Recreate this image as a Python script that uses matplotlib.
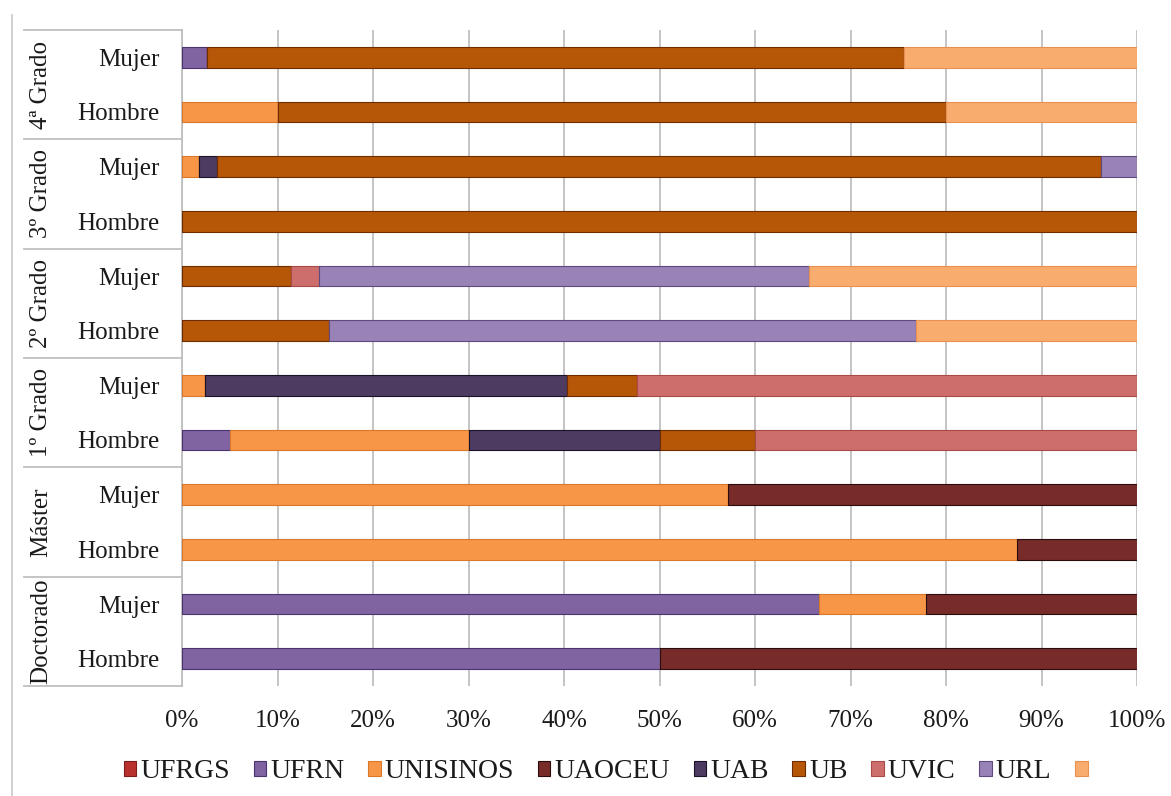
import matplotlib.pyplot as plt
import numpy as np
from matplotlib.patches import Patch
from matplotlib.lines import Line2D
import matplotlib.transforms as mtransforms

plt.rcParams['font.family'] = ['Liberation Serif', 'DejaVu Serif']

# filas de arriba hacia abajo
groups = ['4ª Grado', '3º Grado', '2º Grado', '1º Grado', 'Máster', 'Doctorado']
rows = ['Mujer', 'Hombre'] * 6

series = ['UFRGS', 'UFRN', 'UNISINOS', 'UAOCEU', 'UAB', 'UB', 'UVIC', 'URL', '']

ufrgs = [0, 0, 0, 0, 0, 0, 0, 0, 0, 0, 0, 0]
ufrn = [2.6, 0, 0, 0, 0, 0, 0, 5.0, 0, 0, 66.7, 50.0]
unisinos = [0, 10.0, 1.8, 0, 0, 0, 2.4, 25.0, 57.2, 87.4, 11.2, 0]
uaoceu = [0, 0, 0, 0, 0, 0, 0, 0, 42.8, 12.6, 22.1, 50.0]
uab = [0, 0, 1.9, 0, 0, 0, 37.9, 20.0, 0, 0, 0, 0]
ub = [73.0, 70.0, 92.5, 100.0, 11.4, 15.4, 7.3, 10.0, 0, 0, 0, 0]
uvic = [0, 0, 0, 0, 2.9, 0, 52.4, 40.0, 0, 0, 0, 0]
url = [0, 0, 3.8, 0, 51.4, 61.5, 0, 0, 0, 0, 0, 0]
otro = [24.4, 20.0, 0, 0, 34.3, 23.1, 0, 0, 0, 0, 0, 0]

values = [ufrgs, ufrn, unisinos, uaoceu, uab, ub, uvic, url, otro]
colors = ['#B8312F', '#8064A2', '#F79646', '#772C2A', '#4D3B62',
          '#B65708', '#CD6E6C', '#9982B6', '#F8AC6E']
edges = ['#7a1d1b', '#4a3470', '#d9772a', '#2a0d0c', '#1c1228',
         '#6e2c00', '#a84a48', '#5f4a80', '#e89050']

text_color = '#1a1a1a'

fig = plt.figure(figsize=(11.71, 7.96), dpi=100)
ax = fig.add_axes([182 / 1171, 1 - 686 / 796, 955 / 1171, 656 / 796])

y = np.arange(len(rows))
left = np.zeros(len(rows))
for vals, c, ec in zip(values, colors, edges):
	vals = np.array(vals, dtype=float)
	ax.barh(y, vals, left=left, height=0.38, color=c, edgecolor=ec,
		linewidth=0.8, zorder=3)
	left += vals

ax.set_xlim(0, 100)
ax.set_ylim(11.5, -0.5)
ax.set_xticks(np.arange(0, 101, 10))
ax.set_xticklabels([f'{v}%' for v in range(0, 101, 10)])
ax.set_yticks(y)
ax.set_yticklabels(rows)
ax.tick_params(axis='both', length=0, labelsize=18, colors=text_color)
ax.tick_params(axis='y', pad=16)
ax.tick_params(axis='x', pad=17)
ax.grid(axis='x', color='#BFBFBF', linewidth=1.3, zorder=0)
for s in ['top', 'right', 'bottom']:
	ax.spines[s].set_visible(False)
ax.spines['left'].set_color('#BFBFBF')
ax.spines['left'].set_linewidth(1.3)

# lineas de separacion de grupos y etiquetas giradas
trans = mtransforms.blended_transform_factory(ax.transAxes, ax.transData)
x0 = (24 - 182) / 955
for k in range(7):
	yy = -0.5 + 2 * k
	ax.add_line(Line2D([x0, 0], [yy, yy], transform=trans, color='#BFBFBF',
		linewidth=1.3, clip_on=False))
for k, g in enumerate(groups):
	ax.text((41 - 182) / 955, 0.5 + 2 * k, g, transform=trans, rotation=90,
		ha='center', va='center', fontsize=18, color=text_color)

# borde izquierdo de la figura
fig.add_artist(Line2D([12 / 1171, 12 / 1171], [0, 1 - 15 / 796],
	transform=fig.transFigure, color='#C8C8C8', linewidth=1.2))

handles = [Patch(facecolor=c, edgecolor=ec, linewidth=0.8) for c, ec in zip(colors, edges)]
fig.legend(handles, series, loc='center', bbox_to_anchor=(0.519, 1 - 772 / 796),
	ncol=9, frameon=False, fontsize=20, handlelength=0.45, handleheight=0.45,
	handletextpad=0.15, columnspacing=0.85, labelcolor=text_color)

plt.savefig('out.png', dpi=100)
